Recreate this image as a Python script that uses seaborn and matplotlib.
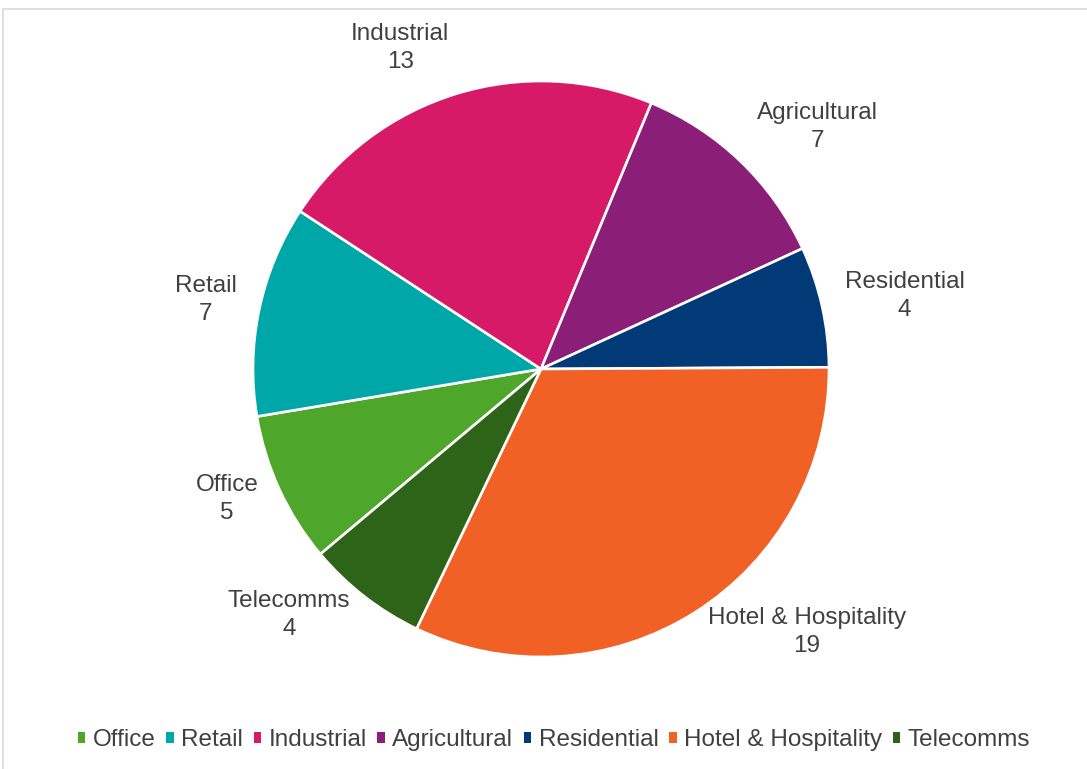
import matplotlib
matplotlib.use("Agg")
import matplotlib.pyplot as plt
import seaborn as sns
import numpy as np
from matplotlib.patches import Patch, Rectangle
from matplotlib.transforms import offset_copy

categories = ["Office", "Retail", "Industrial", "Agricultural", "Residential",
              "Hotel & Hospitality", "Telecomms"]
values = [5, 7, 13, 7, 4, 19, 4]
colors = ["#4EA72A", "#00A7A8", "#D61A67", "#8B1E76", "#023A78", "#F16024", "#2E6417"]

sns.set_theme(style="white")
plt.rcParams["font.family"] = ["Liberation Sans", "DejaVu Sans"]
TEXT = "#404040"

W, H = 1087, 769
fig = plt.figure(figsize=(W / 100, H / 100), dpi=100)
fig.patch.set_facecolor("white")

# chart area border (light gray)
fig.patches.append(Rectangle((3 / W, -0.1), 1.2, 1 - 9 / H + 0.1, transform=fig.transFigure,
                             fill=False, edgecolor="#D9D9D9", linewidth=1.2))

ax = fig.add_axes([0, 0, 1, 1])
cx, cy, R = 541, 369, 288
labels = [f"{c}\n{v}" for c, v in zip(categories, values)]
total = sum(values)
start = 220.0
wedges, texts = ax.pie(values, colors=colors, labels=labels, startangle=start,
                       counterclock=False, labeldistance=1.08,
                       wedgeprops=dict(edgecolor="white", linewidth=1.9),
                       textprops=dict(fontsize=17.5, color=TEXT, multialignment="center",
                                      linespacing=1.35))
ax.set_xlim(-cx / R, (W - cx) / R)
ax.set_ylim(-(H - cy) / R, cy / R)
ax.set_aspect("auto")
ax.axis("off")

# shift labels upward for those on the upper half (like Excel outside-end)
cum = np.cumsum([0] + values)
for i, t in enumerate(texts):
    mid = np.deg2rad(start - (cum[i] + values[i] / 2) / total * 360)
    s = np.sin(mid)
    dy = 0.5 * 50 * max(s, 0) * 72 / 100
    t.set_transform(offset_copy(t.get_transform(), fig=fig, x=0, y=dy, units="points"))
    t.set_va("center")

handles = [Patch(facecolor=c, edgecolor="none") for c in colors]
leg = fig.legend(handles, categories, loc="center", bbox_to_anchor=(554 / W, 1 - 740 / H),
                 ncol=7, frameon=False, fontsize=17.5, handlelength=0.3, handleheight=0.3,
                 handletextpad=0.3, columnspacing=0.45, labelcolor=TEXT)

fig.savefig("out.png", dpi=100, facecolor="white")
